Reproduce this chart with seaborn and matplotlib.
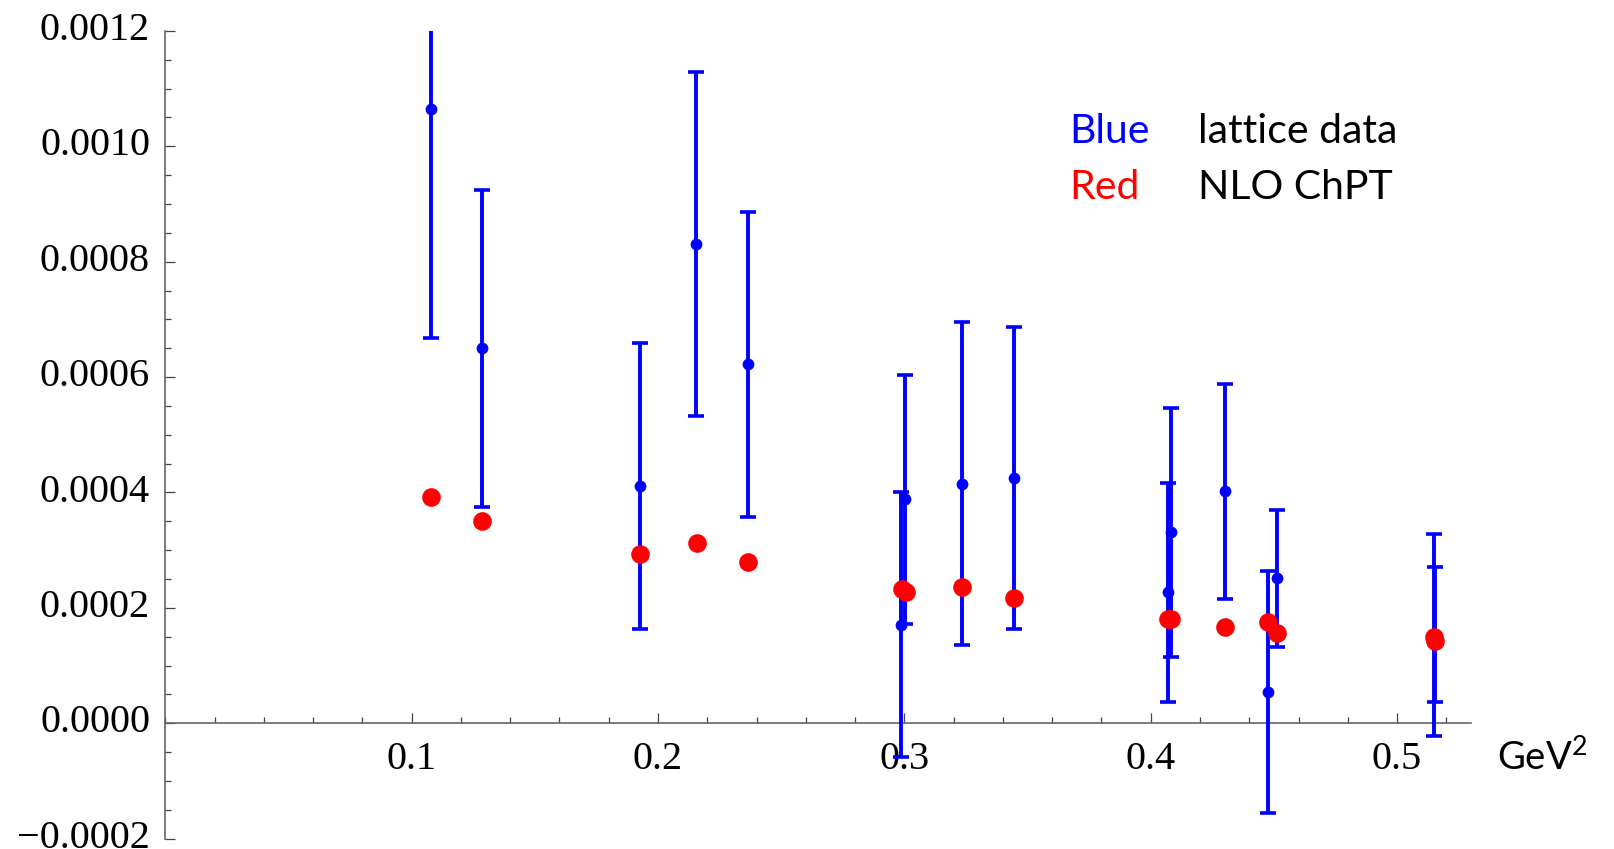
import matplotlib
matplotlib.use("Agg")
import matplotlib.pyplot as plt
import matplotlib.transforms as mtransforms
from matplotlib.ticker import MultipleLocator, FixedLocator, FuncFormatter
import pandas as pd
import seaborn as sns

# ---- data ----
x_lattice = [0.1077, 0.1286, 0.1927, 0.2154, 0.2366, 0.2988, 0.3003, 0.3232, 0.3444,
             0.4069, 0.4083, 0.4300, 0.4477, 0.4512, 0.5148, 0.5152]
y_lattice = [0.001064, 0.000650, 0.000411, 0.000830, 0.000622, 0.000171, 0.000388, 0.000415, 0.000425,
             0.000227, 0.000331, 0.000402, 0.000054, 0.000251, 0.000153, 0.000154]
err_lattice = [0.000396, 0.000275, 0.000248, 0.000298, 0.000265, 0.000230, 0.000216, 0.000280, 0.000261,
               0.000190, 0.000216, 0.000186, 0.000210, 0.000119, 0.000175, 0.000117]

x_nlo = [0.1077, 0.1286, 0.1927, 0.2157, 0.2366, 0.2989, 0.3005, 0.3232, 0.3444,
         0.4069, 0.4083, 0.4300, 0.4477, 0.4512, 0.5148, 0.5152]
y_nlo = [0.000392, 0.000350, 0.000293, 0.000312, 0.000279, 0.000232, 0.000228, 0.000237, 0.000218,
         0.000180, 0.000180, 0.000167, 0.000176, 0.000157, 0.000149, 0.000143]

x_ticks = [0.1, 0.2, 0.3, 0.4, 0.5]
y_ticks = [-0.0002, 0.0, 0.0002, 0.0004, 0.0006, 0.0008, 0.0010, 0.0012]
legend_keys = ["Blue", "Red"]
legend_text = ["lattice data", "NLO ChPT"]
x_unit = r"GeV$^{\mathregular{2}}$"

BLUE = "#0000ff"
RED = "#ff0000"

sns.set_style("ticks")
plt.rcParams["font.family"] = ["Liberation Serif", "DejaVu Serif"]

W, H = 1614, 849
fig = plt.figure(figsize=(W / 100, H / 100), dpi=100)
ax = fig.add_axes([165.3 / W, 10.3 / H, 1305.7 / W, 807.8 / H])

lat = pd.DataFrame({"q2": x_lattice, "val": y_lattice, "err": err_lattice})
nlo = pd.DataFrame({"q2": x_nlo, "val": y_nlo})

ax.errorbar(lat["q2"], lat["val"], yerr=lat["err"], fmt="none", ecolor=BLUE,
            elinewidth=2.8, capsize=6, capthick=2.6, zorder=3)
sns.scatterplot(data=lat, x="q2", y="val", color=BLUE, s=72, linewidth=0,
                zorder=4, ax=ax)
sns.scatterplot(data=nlo, x="q2", y="val", color=RED, s=180, linewidth=0,
                zorder=5, ax=ax)

ax.set_xlim(0, 0.53)
ax.set_ylim(-0.0002, 0.0012)
ax.set_xlabel("")
ax.set_ylabel("")

for s in ("top", "right"):
    ax.spines[s].set_visible(False)
ax.spines["bottom"].set_position(("data", 0))
for s in ("left", "bottom"):
    ax.spines[s].set_color("#666666")
    ax.spines[s].set_linewidth(1.2)

ax.xaxis.set_major_locator(FixedLocator(x_ticks))
ax.xaxis.set_minor_locator(MultipleLocator(0.02))
ax.yaxis.set_major_locator(FixedLocator(y_ticks))
ax.yaxis.set_minor_locator(MultipleLocator(0.00005))
ax.xaxis.set_major_formatter(FuncFormatter(lambda v, p: f"{v:.1f}"))
ax.yaxis.set_major_formatter(FuncFormatter(
    lambda v, p: (f"{v:.4f}".replace("-", "\u2212") if abs(v) > 1e-12 else "0.0000")))

ax.tick_params(which="major", direction="in", length=7.2, width=0.9, color="#444444",
               labelsize=29, labelcolor="black")
ax.tick_params(which="minor", direction="in", length=4.3, width=0.9, color="#444444")
ax.tick_params(axis="y", which="major", pad=11)
ax.tick_params(axis="x", which="major", pad=13)

# y tick labels sit a few pixels above their ticks in the reference
shift = mtransforms.ScaledTranslation(0, 5 / 100, fig.dpi_scale_trans)
for lab in ax.get_yticklabels():
    lab.set_transform(lab.get_transform() + shift)

plt.rcParams["mathtext.fontset"] = "custom"
plt.rcParams["mathtext.rm"] = "Lato"
plt.rcParams["mathtext.it"] = "Lato:italic"
plt.rcParams["mathtext.bf"] = "Lato:bold"

sans = ["Lato", "DejaVu Sans"]
fs = 29.5
fig.text(1069 / W, 1 - 143 / H, legend_keys[0], color=BLUE, fontsize=fs,
         family=sans, va="baseline", ha="left")
fig.text(1198 / W, 1 - 143 / H, legend_text[0], color="black", fontsize=fs,
         family=sans, va="baseline", ha="left")
fig.text(1069 / W, 1 - 199 / H, legend_keys[1], color=RED, fontsize=fs,
         family=sans, va="baseline", ha="left")
fig.text(1198 / W, 1 - 199 / H, legend_text[1], color="black", fontsize=fs,
         family=sans, va="baseline", ha="left")
fig.text(1497 / W, 1 - 770 / H, x_unit, color="black", fontsize=27.5,
         family=sans, va="baseline", ha="left")

fig.savefig("out.png", dpi=100, facecolor="white")
